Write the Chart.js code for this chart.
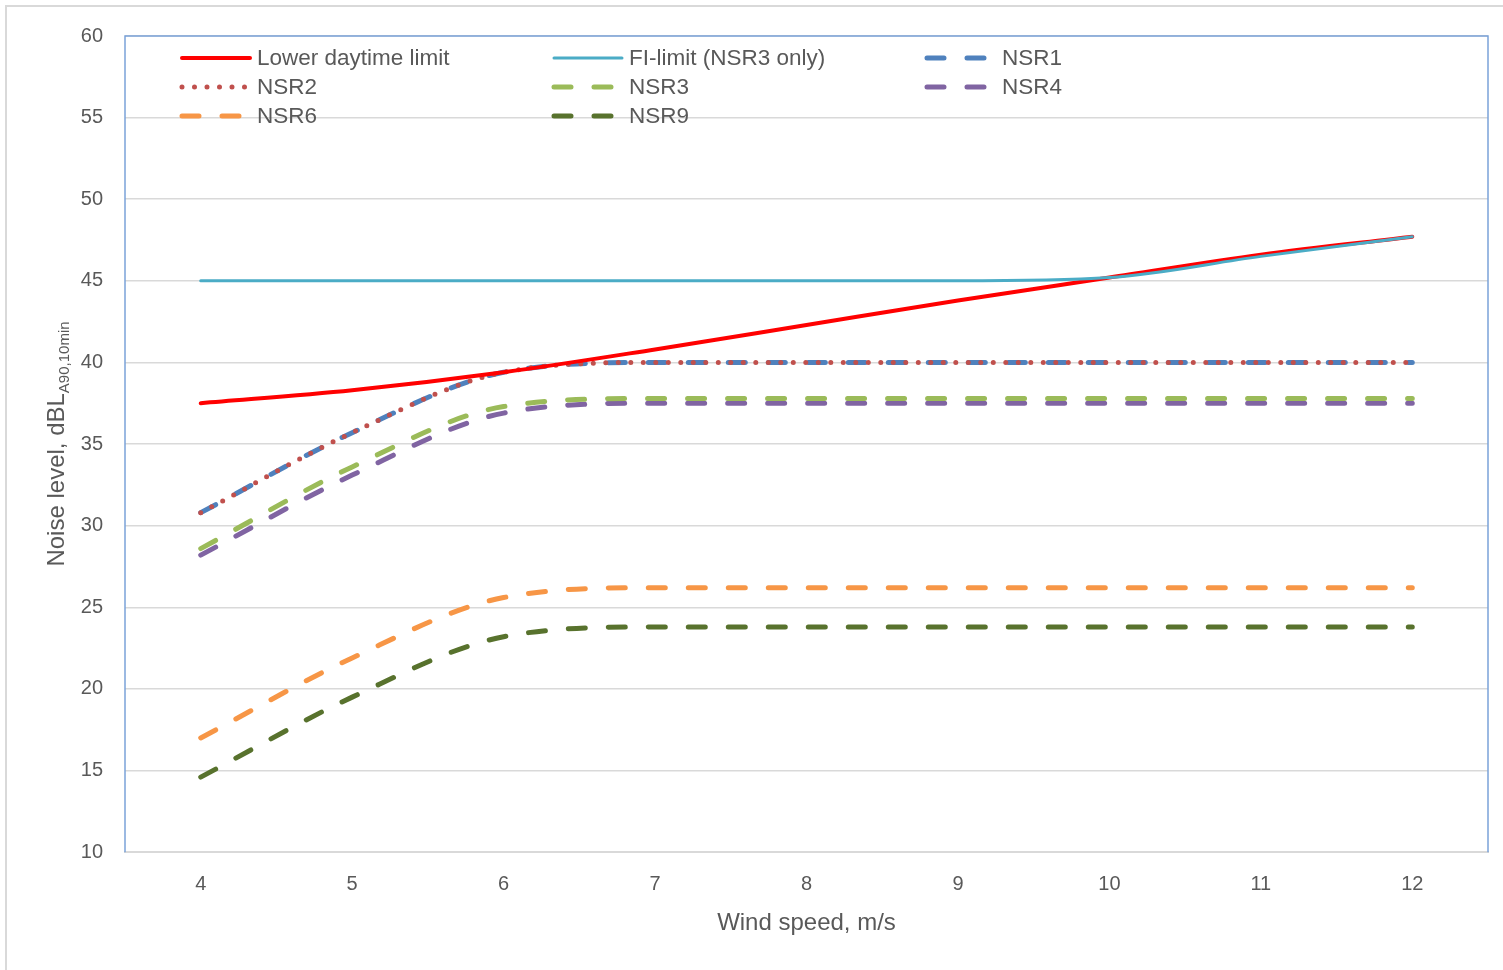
<!DOCTYPE html>
<html>
<head>
<meta charset="utf-8">
<script src="https://cdn.jsdelivr.net/npm/chart.js@4/dist/chart.umd.min.js"></script>
<style>
    html, body { margin: 0; padding: 0; background: #fff; }
    #frame {
        position: absolute; left: 5px; top: 5px; width: 1510px; height: 980px;
        border-left: 2px solid #d9d9d9; border-top: 2px solid #d9d9d9;
    }
    #wrap { position: absolute; left: 0; top: 0; width: 1503px; height: 970px; }
</style>
</head>
<body>
<div id="frame"></div>
<div id="wrap"><canvas id="noiseChart"></canvas></div>
<script>
// Wind speed categories (m/s)
const windSpeeds = ['4', '5', '6', '7', '8', '9', '10', '11', '12'];

// Limits
const lowerDaytimeLimit = [37.5, 38.3, 39.4, 40.8, 42.3, 43.8, 45.2, 46.6, 47.7];
const fiLimit = [45, 45, 45, 45, 45, 45, 45.2, 46.5, 47.7];

// Predicted levels per receptor
const nsr1 = [30.8, 35.7, 39.4, 40.0, 40.0, 40.0, 40.0, 40.0, 40.0];
const nsr2 = [30.8, 35.7, 39.4, 40.0, 40.0, 40.0, 40.0, 40.0, 40.0];
const nsr3 = [28.6, 33.6, 37.3, 37.8, 37.8, 37.8, 37.8, 37.8, 37.8];
const nsr4 = [28.2, 33.1, 36.9, 37.5, 37.5, 37.5, 37.5, 37.5, 37.5];
const nsr6 = [17.0, 21.9, 25.6, 26.2, 26.2, 26.2, 26.2, 26.2, 26.2];
const nsr9 = [14.6, 19.5, 23.2, 23.8, 23.8, 23.8, 23.8, 23.8, 23.8];

const FONT = '"Liberation Sans", Arial, sans-serif';
const TEXT = '#595959';

function series(label, data, color, width, dash, order) {
    return {
        label: label,
        data: data,
        borderColor: color,
        backgroundColor: color,
        borderWidth: width,
        borderDash: dash,
        borderCapStyle: 'round',
        borderJoinStyle: 'round',
        pointRadius: 0,
        cubicInterpolationMode: 'monotone',
        fill: false,
        order: order
    };
}

const datasets = [
    series('Lower daytime limit', lowerDaytimeLimit, '#ff0000', 4, [], 1),
    series('FI-limit (NSR3 only)', fiLimit, '#4bacc6', 3, [], 0),
    series('NSR1', nsr1, '#4f81bd', 5, [17, 23], 3),
    series('NSR2', nsr2, '#c0504d', 5, [0, 12.5], 2),
    series('NSR3', nsr3, '#9bbb59', 5, [17, 23], 4),
    series('NSR4', nsr4, '#8064a2', 5, [17, 23], 5),
    series('NSR6', nsr6, '#f79646', 5, [17, 23], 6),
    series('NSR9', nsr9, '#58722d', 5, [17, 23], 7)
];

// Legend in three columns inside the plot area
const gridLegend = {
    id: 'gridLegend',
    afterDraw(chart) {
        const ctx = chart.ctx;
        const cols = [180, 552, 925];
        const rows = [58, 87, 116];
        ctx.save();
        chart.data.datasets.forEach((ds, i) => {
            const x = cols[i % 3];
            const y = rows[Math.floor(i / 3)];
            ctx.beginPath();
            ctx.strokeStyle = ds.borderColor;
            ctx.lineWidth = ds.borderWidth;
            ctx.lineCap = 'round';
            ctx.setLineDash(ds.borderDash);
            ctx.moveTo(x + 2, y);
            ctx.lineTo(x + 70, y);
            ctx.stroke();
            ctx.setLineDash([]);
            ctx.fillStyle = TEXT;
            ctx.font = '22.5px ' + FONT;
            ctx.textBaseline = 'middle';
            ctx.textAlign = 'left';
            ctx.fillText(ds.label, x + 77, y + 1);
        });
        ctx.restore();
    }
};

// Plot border and the y title with subscript
const frameAndTitle = {
    id: 'frameAndTitle',
    beforeDatasetsDraw(chart) {
        const a = chart.chartArea;
        const ctx = chart.ctx;
        ctx.save();
        ctx.strokeStyle = '#7ba3d9';
        ctx.lineWidth = 1.5;
        ctx.beginPath();
        ctx.moveTo(a.left, a.bottom);
        ctx.lineTo(a.left, a.top);
        ctx.lineTo(a.right, a.top);
        ctx.lineTo(a.right, a.bottom);
        ctx.stroke();
        ctx.restore();
    },
    afterDraw(chart) {
        const ctx = chart.ctx;
        const main = 'Noise level, dBL';
        const sub = 'A90,10min';
        ctx.save();
        ctx.font = '24px ' + FONT;
        const w1 = ctx.measureText(main).width;
        ctx.font = '15px ' + FONT;
        const w2 = ctx.measureText(sub).width;
        const total = w1 + w2;
        ctx.translate(64, 444);
        ctx.rotate(-Math.PI / 2);
        ctx.fillStyle = TEXT;
        ctx.textBaseline = 'alphabetic';
        ctx.textAlign = 'left';
        ctx.font = '24px ' + FONT;
        ctx.fillText(main, -total / 2, 0);
        ctx.font = '15px ' + FONT;
        ctx.fillText(sub, -total / 2 + w1, 5);
        ctx.restore();
    }
};

new Chart(document.getElementById('noiseChart'), {
    type: 'line',
    data: { labels: windSpeeds, datasets: datasets },
    options: {
        responsive: true,
        maintainAspectRatio: false,
        animation: false,
        layout: { padding: { left: 0, top: 36, right: 15, bottom: 32 } },
        plugins: {
            legend: { display: false },
            tooltip: { enabled: false }
        },
        scales: {
            x: {
                offset: true,
                grid: { display: false, drawTicks: false },
                border: { display: true, color: '#d9d9d9', width: 2 },
                ticks: { color: TEXT, font: { family: FONT, size: 20 }, padding: 20 },
                title: {
                    display: true,
                    text: 'Wind speed, m/s',
                    color: TEXT,
                    font: { family: FONT, size: 24 },
                    padding: { top: -7, bottom: 0 }
                }
            },
            y: {
                min: 10,
                max: 60,
                afterFit(scale) { scale.width = 125; },
                grid: { color: '#d9d9d9', lineWidth: 1.5, drawTicks: false },
                border: { display: false },
                ticks: { stepSize: 5, color: TEXT, font: { family: FONT, size: 20 }, padding: 22 }
            }
        }
    },
    plugins: [gridLegend, frameAndTitle]
});
</script>
</body>
</html>
